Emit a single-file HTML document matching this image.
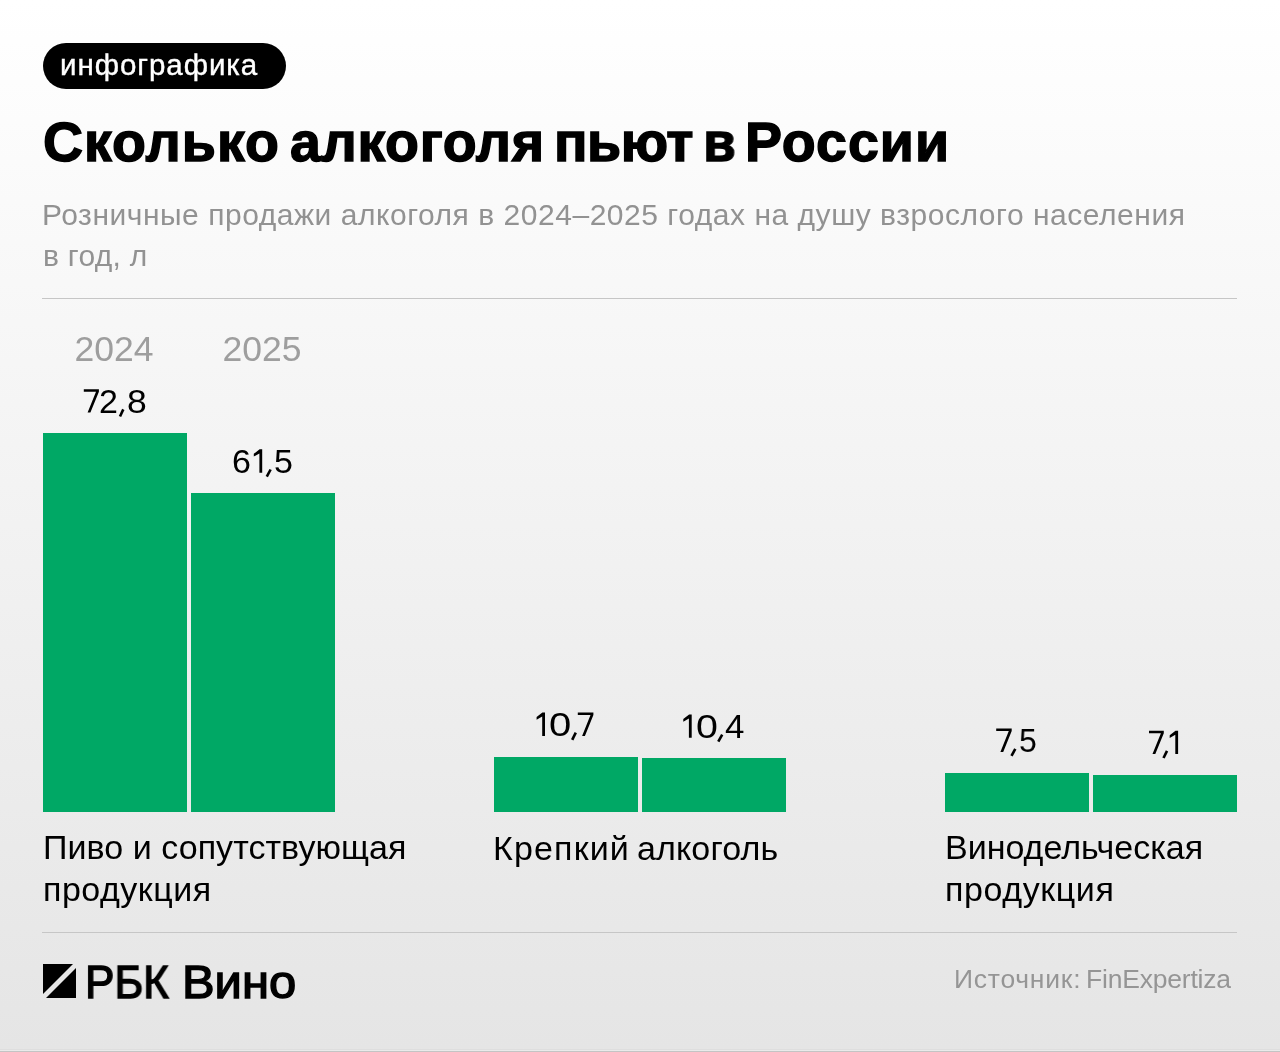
<!DOCTYPE html>
<html><head><meta charset="utf-8">
<style>
html,body{margin:0;padding:0}
body{width:1280px;height:1052px;position:relative;overflow:hidden;
 background:linear-gradient(to bottom,#ffffff 0px,#e5e5e5 1049px);
 font-family:"Liberation Sans",sans-serif;color:#000}
.t{position:absolute;white-space:nowrap;line-height:1;will-change:transform}
.ttl{top:114.6px;font-size:55.5px;font-weight:bold;-webkit-text-stroke:1.4px #000}
.v{font-size:34px;transform-origin:0 0;color:#000}
.src{top:966px;font-size:26.5px;color:#959595}
.bar{position:absolute;background:#00a865}
.hr{position:absolute;left:42px;width:1195px;height:1px;background:#c6c6c6}
</style></head><body>
<div style="position:absolute;left:43px;top:42.8px;width:243px;height:46.5px;border-radius:23.25px;background:#000"></div>
<div class="t" style="left:60px;top:49.8px;font-size:29.5px;letter-spacing:0.95px;color:#fff;-webkit-text-stroke:0.4px #fff">инфографика</div>
<div class="t ttl" style="left:42.98px;letter-spacing:0.98px">Сколько</div>
<div class="t ttl" style="left:289.98px;letter-spacing:0.64px">алкоголя</div>
<div class="t ttl" style="left:553.6px;letter-spacing:-0.47px">пьют</div>
<div class="t ttl" style="left:702.6px;transform:scaleX(0.953);transform-origin:4px 0">в</div>
<div class="t ttl" style="left:745.4px;letter-spacing:1.08px">России</div>
<div class="t" style="left:41.9px;top:200.4px;font-size:30px;color:#929292;letter-spacing:0.53px">Розничные продажи алкоголя в 2024–2025 годах на душу взрослого населения</div>
<div class="t" style="left:42.6px;top:240.8px;font-size:30px;color:#929292;letter-spacing:0.3px">в год, л</div>
<div class="hr" style="top:298px"></div>

<div class="t" style="left:-1.2px;width:230px;text-align:center;top:331.5px;font-size:35.5px;color:#9e9e9e">2024</div>
<div class="t" style="left:146.5px;width:230px;text-align:center;top:331.5px;font-size:35.5px;color:#9e9e9e">2025</div>

<div class="bar" style="left:43px;top:433px;width:144px;height:379px"></div>
<div class="bar" style="left:191px;top:493px;width:144px;height:319px"></div>
<div class="bar" style="left:494px;top:757px;width:144px;height:55px"></div>
<div class="bar" style="left:642px;top:758px;width:144px;height:54px"></div>
<div class="bar" style="left:945px;top:773px;width:144px;height:39px"></div>
<div class="bar" style="left:1093px;top:775px;width:144px;height:37px"></div>

<div class="t v" style="left:99.33px;top:383.70px;transform:scaleX(0.985)">2</div>
<div class="t v" style="left:126.98px;top:383.70px;transform:scaleX(1.045)">8</div>
<div class="t v" style="left:232.43px;top:443.80px;transform:scaleX(0.985)">6</div>
<div class="t v" style="left:274.26px;top:443.80px;transform:scaleX(0.989)">5</div>
<div class="t v" style="left:549.40px;top:707.00px;transform:scaleX(1.176)">0</div>
<div class="t v" style="left:695.52px;top:708.90px;transform:scaleX(1.158)">0</div>
<div class="t v" style="left:724.60px;top:708.90px;transform:scaleX(1.027)">4</div>
<div class="t v" style="left:1018.82px;top:723.10px;transform:scaleX(0.939)">5</div>
<svg style="position:absolute;left:0;top:0" width="1280" height="1052" fill="#000" stroke="none">
<polygon points="83.80,389.20 98.90,389.20 98.90,391.70 90.40,412.60 87.60,412.60 96.00,391.70 83.80,391.70"/>
<polygon points="259.40,472.70 262.20,472.70 262.20,449.30 259.60,449.30 253.80,453.80 253.80,456.60 259.40,453.40"/>
<polygon points="577.80,712.50 593.40,712.50 593.40,715.00 584.90,735.90 582.10,735.90 590.50,715.00 577.80,715.00"/>
<polygon points="542.20,735.90 545.00,735.90 545.00,712.50 542.40,712.50 536.60,717.00 536.60,719.80 542.20,716.60"/>
<polygon points="688.90,737.80 691.70,737.80 691.70,714.40 689.10,714.40 683.30,718.90 683.30,721.70 688.90,718.50"/>
<polygon points="996.20,728.60 1011.70,728.60 1011.70,731.10 1003.20,752.00 1000.40,752.00 1008.80,731.10 996.20,731.10"/>
<polygon points="1149.00,730.70 1163.80,730.70 1163.80,733.20 1155.30,754.10 1152.50,754.10 1160.90,733.20 1149.00,733.20"/>
<polygon points="1175.30,754.10 1178.10,754.10 1178.10,730.70 1175.50,730.70 1169.70,735.20 1169.70,738.00 1175.30,734.80"/>
<g stroke="#000" stroke-width="2.6"><line x1="123.3" y1="409.40" x2="120.0" y2="416.50"/>
<line x1="270.6" y1="469.50" x2="266.8" y2="476.60"/>
<line x1="575.8" y1="732.70" x2="572.2" y2="739.80"/>
<line x1="722.2" y1="734.60" x2="718.3" y2="741.70"/>
<line x1="1015.3" y1="748.80" x2="1011.5" y2="755.90"/>
<line x1="1167.0" y1="750.90" x2="1163.5" y2="758.00"/></g>
</svg>

<div class="t" style="left:43px;top:830px;font-size:34px;letter-spacing:0.05px">Пиво и сопутствующая</div>
<div class="t" style="left:43px;top:872.3px;font-size:34px;letter-spacing:0.5px">продукция</div>
<div class="t" style="left:493px;top:830.5px;font-size:34px;letter-spacing:1.16px">Крепкий</div>
<div class="t" style="left:637.4px;top:830.5px;font-size:34px;letter-spacing:0.12px">алкоголь</div>
<div class="t" style="left:945px;top:830px;font-size:34px">Винодельческая</div>
<div class="t" style="left:945px;top:872.3px;font-size:34px;letter-spacing:0.6px">продукция</div>

<div class="hr" style="top:932px"></div>

<svg style="position:absolute;left:0;top:0" width="1280" height="1052">
<polygon points="43,964 73,964 43,994" fill="#000"/>
<polygon points="76,968 76,998 46,998" fill="#000"/>
</svg>
<div class="t" style="left:85.3px;top:958.7px;font-size:46px;-webkit-text-stroke:1.4px #000;transform:scaleX(0.957);transform-origin:0 0">РБК</div>
<div class="t" style="left:181.9px;top:958.7px;font-size:46px;-webkit-text-stroke:1.4px #000;transform:scaleX(1.063);transform-origin:0 0">Вино</div>
<div class="t src" style="left:954.1px;letter-spacing:0.75px">Источник:</div>
<div class="t src" style="left:1086.3px;letter-spacing:-0.2px">FinExpertiza</div>
<div style="position:absolute;left:0;top:1049px;width:1280px;height:1px;background:#dedede"></div>
<div style="position:absolute;left:0;top:1050px;width:1280px;height:1px;background:#eaeaea"></div>
<div style="position:absolute;left:0;top:1051px;width:1280px;height:1px;background:#c4c4c4"></div>
</body></html>
